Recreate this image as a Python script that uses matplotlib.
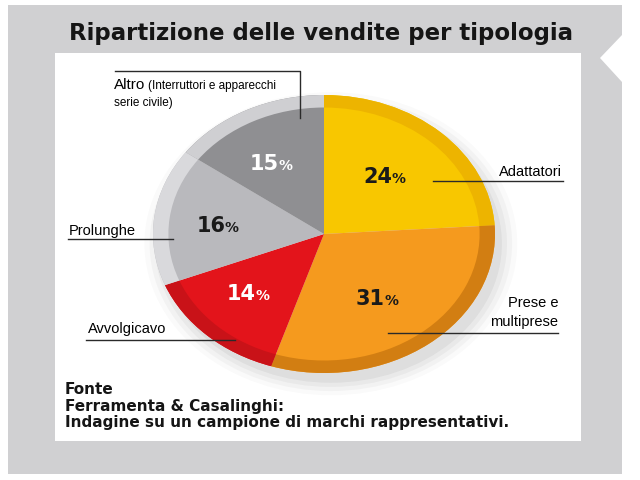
import numpy as np
import matplotlib
matplotlib.use('Agg')
import matplotlib.pyplot as plt
from matplotlib.patches import Polygon, Rectangle, Ellipse

# dati
categorie = ['Adattatori', 'Prese e multiprese', 'Avvolgicavo', 'Prolunghe', 'Altro']
quote = [24, 31, 14, 16, 15]
colori = ['#F8C700', '#F59A1E', '#E3141B', '#B9B9BD', '#8F8F92']
bordi = ['#EDB400', '#D27E12', '#C91218', '#D9D9DC', '#CFCFD2']
col_pct = ['#1a1a1a', '#1a1a1a', 'white', '#1a1a1a', 'white']

titolo = 'Ripartizione delle vendite per tipologia'
fonte = ['Fonte', 'Ferramenta & Casalinghi:',
         'Indagine su un campione di marchi rappresentativi.']

W, H = 640, 480
fig = plt.figure(figsize=(W / 100, H / 100), dpi=100)
fig.patch.set_facecolor('white')

bg = fig.add_axes([0, 0, 1, 1])
bg.set_xlim(0, W)
bg.set_ylim(H, 0)
bg.axis('off')

# cornice grigia con tacca a destra
bg.add_patch(Polygon([(8, 5), (622, 5), (622, 35), (600, 58), (622, 82),
                      (622, 474), (8, 474)], closed=True,
                     facecolor='#D0D0D2', edgecolor='none'))
bg.add_patch(Rectangle((55, 53), 526, 388, facecolor='white', edgecolor='none'))

bg.text(69, 40, titolo, fontsize=16.5, fontweight='bold', family='DejaVu Sans',
        color='#151515', va='baseline', ha='left')

for i, riga in enumerate(fonte):
    bg.text(65, 390 + i * 16.5, riga, fontsize=11, fontweight='bold',
            family='DejaVu Sans', color='#151515', va='center', ha='left')

# torta ellittica
ax = fig.add_axes([153 / W, (H - 373) / H, 342 / W, 278 / H])
for k, a in enumerate([0.10, 0.08, 0.06, 0.04]):
    ax.add_patch(Ellipse((0.04, -0.07), 2.0 + 0.06 * k, 2.0 + 0.06 * k,
                         facecolor='#808080', alpha=a, edgecolor='none', clip_on=False))

wedges, _ = ax.pie(quote, colors=colori, startangle=90, counterclock=False,
                   radius=1, wedgeprops=dict(linewidth=0))
ax.pie(quote, colors=bordi, startangle=90, counterclock=False, radius=1,
       wedgeprops=dict(width=0.09, linewidth=0))
for w in ax.patches:
    w.set_clip_on(False)

for w, q, c in zip(wedges, quote, col_pct):
    ang = np.deg2rad((w.theta1 + w.theta2) / 2)
    x, y = 0.58 * np.cos(ang), 0.58 * np.sin(ang)
    ax.annotate(str(q), (x, y), xytext=(0, -5.5), textcoords='offset points',
                fontsize=15, fontweight='bold', family='DejaVu Sans',
                color=c, ha='right', va='baseline')
    ax.annotate('%', (x, y), xytext=(-0.5, -5.5), textcoords='offset points',
                fontsize=10, fontweight='bold', family='DejaVu Sans',
                color=c, ha='left', va='baseline')

ax.set_aspect('auto')
ax.set_xlim(-1, 1)
ax.set_ylim(-1, 1)
ax.axis('off')

# livello sopra la torta: etichette e linee di richiamo
top = fig.add_axes([0, 0, 1, 1], zorder=5)
top.set_xlim(0, W)
top.set_ylim(H, 0)
top.axis('off')
top.patch.set_alpha(0)

lc = '#2a2a2a'
fs = 10.5
lab = 'Liberation Sans'

top.plot([115, 300, 300], [71, 71, 118], color=lc, lw=1.0)
top.text(114, 85, 'Altro', fontsize=11, family=lab, va='center', ha='left')
top.text(148, 86, '(Interruttori e apparecchi', fontsize=8.5, family=lab, va='center', ha='left')
top.text(114, 103, 'serie civile)', fontsize=8.5, family=lab, va='center', ha='left')

top.plot([433, 563], [181, 181], color=lc, lw=1.0)
top.text(562, 172, 'Adattatori', fontsize=fs, family=lab, va='center', ha='right')

top.plot([388, 558], [333, 333], color=lc, lw=1.0)
top.text(558, 303, 'Prese e', fontsize=fs, family=lab, va='center', ha='right')
top.text(558, 322, 'multiprese', fontsize=fs, family=lab, va='center', ha='right')

top.plot([68, 173], [239, 239], color=lc, lw=1.0)
top.text(69, 231, 'Prolunghe', fontsize=fs, family=lab, va='center', ha='left')

top.plot([86, 235], [340, 340], color=lc, lw=1.0)
top.text(88, 329, 'Avvolgicavo', fontsize=fs, family=lab, va='center', ha='left')

fig.savefig('out.png', dpi=100)
